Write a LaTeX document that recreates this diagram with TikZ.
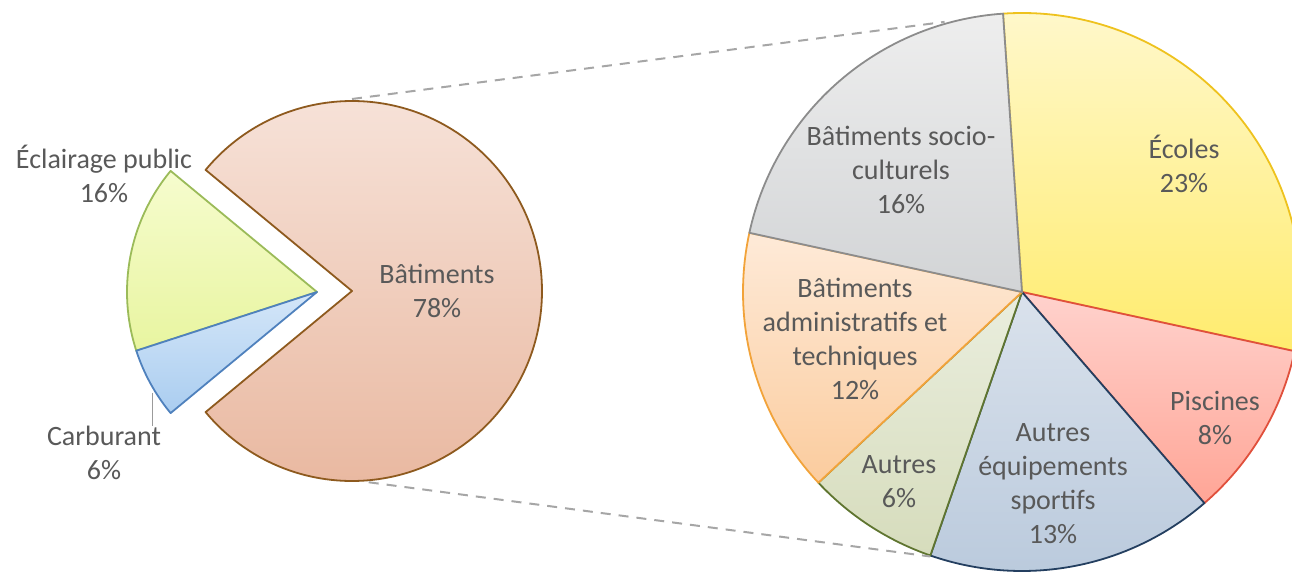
\documentclass[tikz,border=0pt]{standalone}
\usepackage{fontspec}
\setmainfont{Carlito}
\usetikzlibrary{calc}
\definecolor{txt}{HTML}{595959}
\definecolor{batB}{HTML}{8E5A1E}
\definecolor{eclB}{HTML}{9BBB59}
\definecolor{carB}{HTML}{4F81BD}
\definecolor{ecoB}{HTML}{EEC21E}
\definecolor{pisB}{HTML}{E0503C}
\definecolor{aesB}{HTML}{243F60}
\definecolor{autB}{HTML}{5F7530}
\definecolor{admB}{HTML}{F2A33A}
\definecolor{socB}{HTML}{8C8C8C}
\definecolor{dash}{HTML}{A6A6A6}
\tikzset{
  slice/.style={line width=1.8pt, line join=round},
  lbl/.style={text=txt, font=\fontsize{28}{34}\selectfont, align=center, inner sep=0pt},
  zoomline/.style={draw=dash, line width=2pt, dash pattern=on 10pt off 8pt},
}
\begin{document}
\begin{tikzpicture}[x=1pt,y=1pt]
\useasboundingbox (0,0) rectangle (1292,573);
\clip (0,0) rectangle (1292,573);
% centres
\coordinate (B) at (352,282);
\coordinate (E) at (317,281);
\coordinate (R) at (1022,281);
% left pie
\draw[slice, draw=batB, top color={rgb,255:red,247;green,228;blue,219}, bottom color={rgb,255:red,233;green,184;blue,160}]
  (B) -- ++(140.4:190) arc[start angle=140.4, end angle=-140.4, radius=190] -- cycle;
\draw[slice, draw=eclB, top color={rgb,255:red,246;green,252;blue,206}, bottom color={rgb,255:red,232;green,245;blue,160}]
  (E) -- ++(140.4:190) arc[start angle=140.4, end angle=198, radius=190] -- cycle;
\draw[slice, draw=carB, top color={rgb,255:red,212;green,230;blue,248}, bottom color={rgb,255:red,170;green,205;blue,240}]
  (E) -- ++(198:190) arc[start angle=198, end angle=219.6, radius=190] -- cycle;
% right pie
\draw[slice, draw=ecoB, top color={rgb,255:red,255;green,248;blue,204}, bottom color={rgb,255:red,255;green,236;blue,110}]
  (R) -- ++(93.9:279) arc[start angle=93.9, end angle=-12.25, radius=279] -- cycle;
\draw[slice, draw=pisB, top color={rgb,255:red,255;green,210;blue,205}, bottom color={rgb,255:red,255;green,165;blue,150}]
  (R) -- ++(-12.25:279) arc[start angle=-12.25, end angle=-49.18, radius=279] -- cycle;
\draw[slice, draw=aesB, top color={rgb,255:red,218;green,226;blue,236}, bottom color={rgb,255:red,185;green,201;blue,220}]
  (R) -- ++(-49.18:279) arc[start angle=-49.18, end angle=-109.18, radius=279] -- cycle;
\draw[slice, draw=autB, top color={rgb,255:red,234;green,238;blue,222}, bottom color={rgb,255:red,214;green,220;blue,188}]
  (R) -- ++(-109.18:279) arc[start angle=-109.18, end angle=-136.87, radius=279] -- cycle;
\draw[slice, draw=admB, top color={rgb,255:red,254;green,234;blue,216}, bottom color={rgb,255:red,251;green,204;blue,158}]
  (R) -- ++(-136.87:279) arc[start angle=-136.87, end angle=-192.25, radius=279] -- cycle;
\draw[slice, draw=socB, top color={rgb,255:red,238;green,238;blue,238}, bottom color={rgb,255:red,210;green,212;blue,214}]
  (R) -- ++(167.75:279) arc[start angle=167.75, end angle=93.9, radius=279] -- cycle;
% connector lines
\coordinate (ua) at ($(B)+(90:192)$);
\coordinate (ub) at ($(R)+(106:281)$);
\coordinate (la) at ($(B)+(-85:192)$);
\coordinate (lb) at ($(R)+(-109.18:280)$);
\draw[zoomline] (ua) -- (ub);
\draw[zoomline] (la) -- (lb);
% labels
\node[lbl] (lecl) at (104,399) {Éclairage public\\16\%};
\node[lbl] (lcar) at (104,120) {Carburant\\6\%};
\node[lbl] (lbat) at (437,282) {Bâtiments\\78\%};
\coordinate (cartip) at (152,180);
\draw[txt!60, line width=0.8pt] (cartip) -- (cartip |- lcar.north);
\node[lbl] (lsoc) at (901,403) {Bâtiments socio-\\culturels\\16\%};
\node[lbl] (leco) at (1184,409) {Écoles\\23\%};
\node[lbl] (ladm) at (855,234) {Bâtiments\\administratifs et\\techniques\\12\%};
\node[lbl] (lpis) at (1215,155) {Piscines\\8\%};
\node[lbl] (laes) at (1053,89) {Autres\\équipements\\sportifs\\13\%};
\node[lbl] (laut) at (899,91) {Autres\\6\%};
\end{tikzpicture}
\end{document}
